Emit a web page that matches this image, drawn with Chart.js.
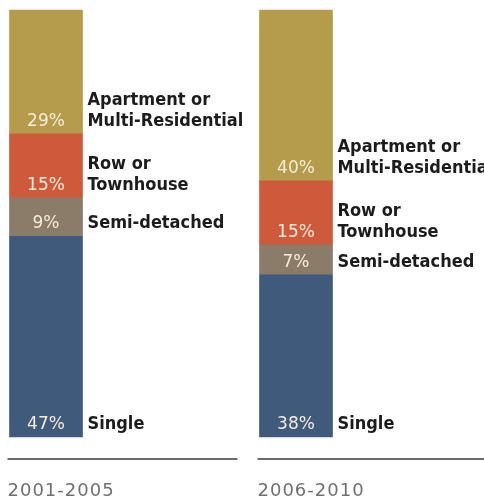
<!DOCTYPE html>
<html>
<head>
<meta charset="utf-8">
<script src="https://cdn.jsdelivr.net/npm/chart.js@4"></script>
<style>
  html, body { margin: 0; padding: 0; background: #fff; }
  #wrap { width: 484px; height: 498px; position: relative; }
</style>
</head>
<body>
<div id="wrap"><canvas id="chart"></canvas></div>
<script>
"use strict";

// データ（下から積み上げる順）
const periods = ["2001-2005", "2006-2010"];
const typeLabels = [
  ["Single"],
  ["Semi-detached"],
  ["Row or", "Townhouse"],
  ["Apartment or", "Multi-Residential"]
];
const single = [47, 38];
const semiDetached = [9, 7];
const rowTownhouse = [15, 15];
const apartment = [29, 40];
const typeColors = ["#3f5a7a", "#8b7b69", "#cf5a3b", "#b49c4c"];

const seriesValues = [single, semiDetached, rowTownhouse, apartment];
const BAR_W = 73;

// ラベルと下線を描くプラグイン
const labelPlugin = {
  id: "segmentLabels",
  afterDatasetsDraw(chart) {
    const ctx = chart.ctx;
    ctx.save();
    chart.data.datasets.forEach((ds, di) => {
      const meta = chart.getDatasetMeta(di);
      meta.data.forEach((bar, i) => {
        const bottom = Math.max(bar.base, bar.y);
        const baseline = bottom - 8;
        // パーセント（バーの中）
        ctx.font = "17px 'DejaVu Sans'";
        ctx.fillStyle = "#f4ecd8";
        ctx.textAlign = "center";
        ctx.textBaseline = "alphabetic";
        ctx.fillText(ds.data[i] + "%", bar.x, baseline);
        // 種類ラベル（バーの右）
        ctx.font = "bold 18px 'Liberation Sans Narrow', 'DejaVu Sans Condensed', sans-serif";
        ctx.fillStyle = "#1c1c1c";
        ctx.textAlign = "left";
        const lines = typeLabels[di];
        lines.forEach((line, li) => {
          ctx.fillText(line, bar.x + BAR_W / 2 + 5, baseline - (lines.length - 1 - li) * 21);
        });
      });
    });
    // 下線と期間ラベル
    const meta0 = chart.getDatasetMeta(0);
    meta0.data.forEach((bar, i) => {
      const left = bar.x - BAR_W / 2 - 2;
      ctx.strokeStyle = "#3a3a3a";
      ctx.lineWidth = 1.5;
      ctx.beginPath();
      ctx.moveTo(left, 459);
      ctx.lineTo(i === 0 ? left + 230 : chart.width, 459);
      ctx.stroke();
      ctx.font = "18px 'DejaVu Sans'";
      ctx.letterSpacing = "1px";
      ctx.fillStyle = "#707070";
      ctx.textAlign = "left";
      ctx.fillText(periods[i], left, 496);
      ctx.letterSpacing = "0px";
    });
    ctx.restore();
  }
};

new Chart(document.getElementById("chart"), {
  type: "bar",
  data: {
    labels: periods,
    datasets: seriesValues.map((vals, k) => ({
      label: typeLabels[k].join(" "),
      data: vals,
      backgroundColor: typeColors[k],
      borderWidth: 0,
      barThickness: BAR_W,
      clip: false
    }))
  },
  options: {
    responsive: true,
    maintainAspectRatio: false,
    animation: false,
    layout: { padding: { left: 46, right: 188, top: 10, bottom: 61 } },
    scales: {
      x: { stacked: true, offset: false, display: false },
      y: { stacked: true, min: 0, max: 100, display: false }
    },
    plugins: {
      legend: { display: false },
      tooltip: { enabled: false }
    }
  },
  plugins: [labelPlugin]
});
</script>
</body>
</html>
